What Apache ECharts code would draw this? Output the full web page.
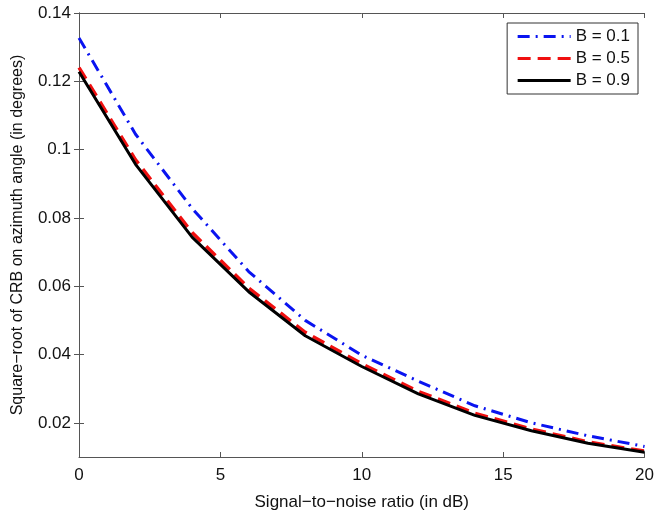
<!DOCTYPE html>
<html>
<head>
<meta charset="utf-8">
<script src="https://cdn.jsdelivr.net/npm/echarts@6/dist/echarts.min.js"></script>
<style>
  html, body { margin: 0; padding: 0; background: #fff; }
  #chart { width: 657px; height: 516px; }
</style>
</head>
<body>
<div id="chart"></div>
<script>
// SNR in dB
var snr = [0, 2, 4, 6, 8, 10, 12, 14, 16, 18, 20];
// sqrt CRB (degrees) for each B
var b01 = [0.1327, 0.1045, 0.0828, 0.0643, 0.0500, 0.0398, 0.0322, 0.0250, 0.0200, 0.0162, 0.0131];
var b05 = [0.1240, 0.0970, 0.0757, 0.0595, 0.0465, 0.0373, 0.0292, 0.0228, 0.0182, 0.0144, 0.0117];
var b09 = [0.1228, 0.0957, 0.0744, 0.0584, 0.0455, 0.0365, 0.0285, 0.0222, 0.0177, 0.0140, 0.0114];
var yTicks = [0.02, 0.04, 0.06, 0.08, 0.1, 0.12, 0.14];
var xTicks = [0, 5, 10, 15, 20];

function pairs(ys) {
    return snr.map(function (x, i) { return [x, ys[i]]; });
}

var chart = echarts.init(document.getElementById('chart'), null, { renderer: 'canvas' });

var axisCol = '#555555';
var font = 'Liberation Sans, Arial, sans-serif';

var option = {
    animation: false,
    backgroundColor: '#ffffff',
    grid: { left: 79, right: 10, top: 13, bottom: 56 },
    legend: {
        orient: 'vertical',
        right: 19,
        top: 23,
        backgroundColor: '#fff',
        borderColor: '#333',
        borderWidth: 1,
        padding: [5, 8, 5, 9],
        itemWidth: 53,
        itemHeight: 17,
        itemGap: 5,
        itemStyle: { opacity: 0 },
        lineStyle: { width: 3 },
        textStyle: { color: '#111', fontSize: 17, fontFamily: font },
        data: ['B = 0.1', 'B = 0.5', 'B = 0.9']
    },
    xAxis: [{
        type: 'value',
        min: 0, max: 20,
        name: 'Signal\u2212to\u2212noise ratio (in dB)',
        nameLocation: 'middle',
        nameGap: 37,
        nameTextStyle: { color: '#111', fontSize: 17, fontFamily: font },
        axisLine: { show: true, lineStyle: { color: axisCol, width: 1 } },
        axisTick: { show: true, inside: true, length: 5, customValues: xTicks, lineStyle: { color: axisCol } },
        axisLabel: { color: '#111', fontSize: 17, fontFamily: font, margin: 10, customValues: xTicks },
        splitLine: { show: false }
    }, {
        type: 'value',
        position: 'top',
        min: 0, max: 20,
        axisLine: { show: true, lineStyle: { color: axisCol, width: 1 } },
        axisTick: { show: true, inside: true, length: 5, customValues: xTicks, lineStyle: { color: axisCol } },
        axisLabel: { show: false },
        splitLine: { show: false }
    }],
    yAxis: [{
        type: 'value',
        min: 0.01, max: 0.14,
        name: 'Square\u2212root of CRB on azimuth angle (in degrees)',
        nameLocation: 'middle',
        nameGap: 53,
        nameTextStyle: { color: '#111', fontSize: 16, fontFamily: font },
        axisLine: { show: true, lineStyle: { color: axisCol, width: 1 } },
        axisTick: { show: true, inside: true, length: 5, customValues: yTicks, lineStyle: { color: axisCol } },
        axisLabel: { color: '#111', fontSize: 17, fontFamily: font, margin: 8, customValues: yTicks,
            formatter: function (v) { return String(Math.round(v * 100) / 100); } },
        splitLine: { show: false }
    }, {
        type: 'value',
        position: 'right',
        min: 0.01, max: 0.14,
        axisLine: { show: true, lineStyle: { color: axisCol, width: 1 } },
        axisTick: { show: true, inside: true, length: 5, customValues: yTicks, lineStyle: { color: axisCol } },
        axisLabel: { show: false },
        splitLine: { show: false }
    }],
    series: [{
        name: 'B = 0.1',
        type: 'line',
        data: pairs(b01),
        symbol: 'none',
        z: 3,
        lineStyle: { color: '#0a14f0', width: 3, type: [12, 6, 2, 6] },
        itemStyle: { color: '#0a14f0' }
    }, {
        name: 'B = 0.5',
        type: 'line',
        data: pairs(b05),
        symbol: 'none',
        z: 2,
        lineStyle: { color: '#f01010', width: 3.5, type: [13, 7] },
        itemStyle: { color: '#f01010' }
    }, {
        name: 'B = 0.9',
        type: 'line',
        data: pairs(b09),
        symbol: 'none',
        z: 4,
        lineStyle: { color: '#000000', width: 3 },
        itemStyle: { color: '#000000' }
    }]
};

chart.setOption(option);
</script>
</body>
</html>
